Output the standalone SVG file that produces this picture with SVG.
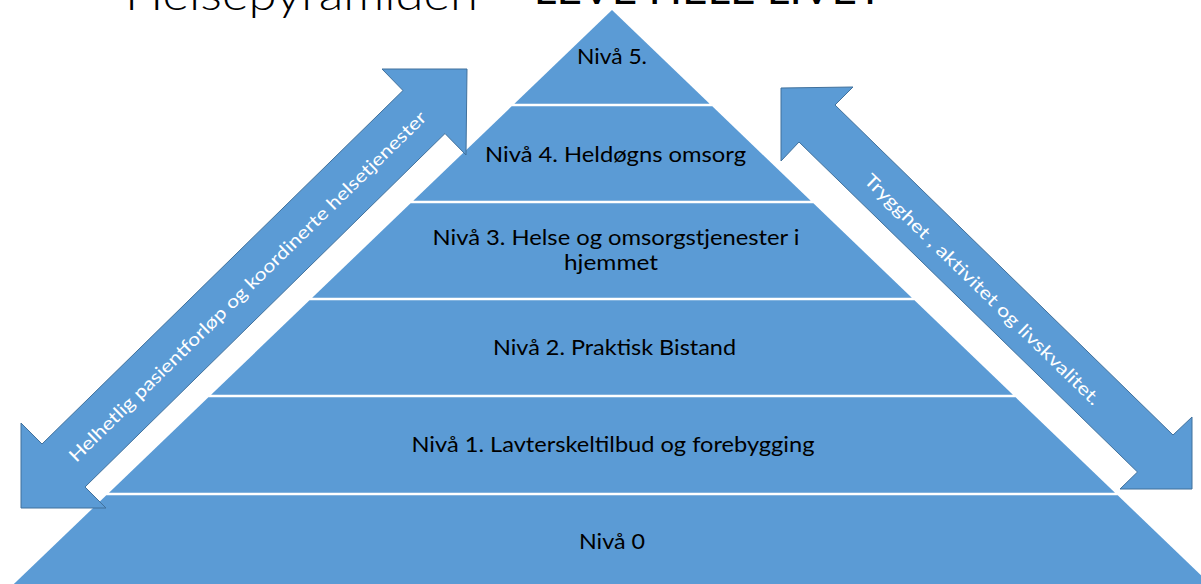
<svg xmlns="http://www.w3.org/2000/svg" width="1201" height="584" viewBox="0 0 1201 584">
  <style>
    .lvl { fill: #5B9BD5; }
    .arr { fill: #5B9BD5; stroke: #41719C; stroke-width: 1; stroke-linejoin: miter; }
    .lbl { font-family: Lato, "Open Sans", "Liberation Sans", sans-serif; font-size: 21px; fill: #000000; text-anchor: middle; }
    .atx { font-family: Lato, "Open Sans", "Liberation Sans", sans-serif; font-size: 18px; fill: #FFFFFF; text-anchor: middle; dominant-baseline: central; }
    .ttl { font-family: Lato, "Open Sans", "Liberation Sans", sans-serif; fill: #000000; }
  </style>
  <rect x="0" y="0" width="1201" height="584" fill="#FFFFFF"/>

  <g id="title">
    <text class="ttl" x="125" y="9.5" font-size="44" font-weight="300" textLength="353" lengthAdjust="spacingAndGlyphs">Helsepyramiden</text>
    <text class="ttl" x="497" y="3.5" font-size="40" font-weight="normal" textLength="386" lengthAdjust="spacingAndGlyphs">– LEVE HELE LIVET</text>
  </g>

  <g id="level5">
    <polygon class="lvl" points="612,10 709.6,103.7 514.4,103.7"/>
    <text class="lbl" x="612" y="64" textLength="70" lengthAdjust="spacingAndGlyphs">Nivå 5.</text>
  </g>
  <g id="level4">
    <polygon class="lvl" points="511.7,106.3 712.3,106.3 810.7,200.7 413.3,200.7"/>
    <text class="lbl" x="615.5" y="161.5" textLength="261" lengthAdjust="spacingAndGlyphs">Nivå 4. Heldøgns omsorg</text>
  </g>
  <g id="level3">
    <polygon class="lvl" points="410.6,203.3 813.4,203.3 911.8,297.7 312.2,297.7"/>
    <text class="lbl" x="616" y="245" textLength="367" lengthAdjust="spacingAndGlyphs">Nivå 3. Helse og omsorgstjenester i</text>
    <text class="lbl" x="611" y="270" textLength="94" lengthAdjust="spacingAndGlyphs">hjemmet</text>
  </g>
  <g id="level2">
    <polygon class="lvl" points="309.5,300.3 914.5,300.3 1012.9,394.7 211.1,394.7"/>
    <text class="lbl" x="614.5" y="355" textLength="243" lengthAdjust="spacingAndGlyphs">Nivå 2. Praktisk Bistand</text>
  </g>
  <g id="level1">
    <polygon class="lvl" points="208.4,397.3 1015.6,397.3 1115,492.7 109,492.7"/>
    <text class="lbl" x="613" y="451.7" textLength="403" lengthAdjust="spacingAndGlyphs">Nivå 1. Lavterskeltilbud og forebygging</text>
  </g>
  <g id="level0">
    <polygon class="lvl" points="106.3,495.3 1117.7,495.3 1226.8,600 -2.8,600"/>
    <text class="lbl" x="612" y="549" textLength="66" lengthAdjust="spacingAndGlyphs">Nivå 0</text>
  </g>

  <g id="connectors">
    <g id="arrow-left">
      <polygon class="arr" points="467,69 382,69 403,90.5 42,444 21,423 21,508 106,508 85,487 445,133.5 466,155"/>
      <text class="atx" transform="translate(247,286) rotate(-44.4)" x="0" y="0" textLength="492" lengthAdjust="spacingAndGlyphs">Helhetlig pasientforløp og koordinerte helsetjenester</text>
    </g>
    <g id="arrow-right">
      <polygon class="arr" points="781,88 853,87 835,105 1173,435 1192,417 1192,489 1120,489 1137.5,472 799,142 781,161"/>
      <text class="atx" transform="translate(983,289) rotate(44.3)" x="0" y="0" textLength="322" lengthAdjust="spacingAndGlyphs">Trygghet , aktivitet og livskvalitet.</text>
    </g>
  </g>
</svg>
